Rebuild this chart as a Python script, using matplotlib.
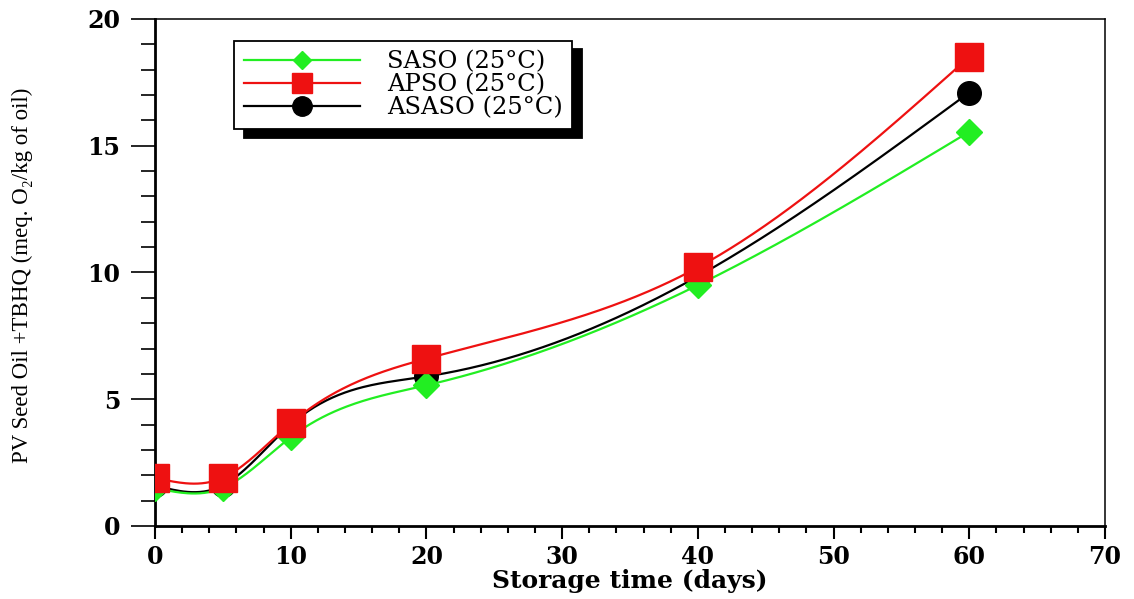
import numpy as np
import matplotlib
matplotlib.use('Agg')
import matplotlib.pyplot as plt
from matplotlib.lines import Line2D
from matplotlib.ticker import MultipleLocator

plt.rcParams['font.family'] = 'DejaVu Serif'
plt.rcParams['font.weight'] = 'bold'

# storage days and peroxide values
days = [0, 5, 10, 20, 40, 60]
saso = [1.5, 1.5, 3.5, 5.55, 9.5, 15.55]
apso = [1.9, 1.9, 4.05, 6.6, 10.2, 18.5]
asaso = [1.6, 1.6, 4.0, 5.9, 9.85, 17.1]


def natural_spline(x, y, n=400):
	# plain natural cubic spline, just to get the smooth look of the original
	x = np.asarray(x, float)
	y = np.asarray(y, float)
	m = len(x)
	h = np.diff(x)
	A = np.zeros((m, m))
	b = np.zeros(m)
	A[0, 0] = 1
	A[-1, -1] = 1
	for i in range(1, m - 1):
		A[i, i - 1] = h[i - 1]
		A[i, i] = 2 * (h[i - 1] + h[i])
		A[i, i + 1] = h[i]
		b[i] = 6 * ((y[i + 1] - y[i]) / h[i] - (y[i] - y[i - 1]) / h[i - 1])
	M = np.linalg.solve(A, b)
	xs = np.linspace(x[0], x[-1], n)
	idx = np.clip(np.searchsorted(x, xs) - 1, 0, m - 2)
	x0 = x[idx]
	x1 = x[idx + 1]
	hh = h[idx]
	ys = (M[idx] * (x1 - xs) ** 3 / (6 * hh) + M[idx + 1] * (xs - x0) ** 3 / (6 * hh)
	      + (y[idx] / hh - M[idx] * hh / 6) * (x1 - xs)
	      + (y[idx + 1] / hh - M[idx + 1] * hh / 6) * (xs - x0))
	return xs, ys


fig = plt.figure(figsize=(11.34, 5.99), dpi=100)
ax = fig.add_axes([0.1367, 0.1219, 0.8377, 0.8464])

# label, values, colour, marker, size in plot, size in legend, zorder
series = [
	('SASO (25°C)', saso, '#22ee22', 'D', 13, 9, 3),
	('APSO (25°C)', apso, '#ee1111', 's', 20, 14, 4),
	('ASASO (25°C)', asaso, 'black', 'o', 17, 14, 2),
]
handles = []
for label, vals, col, mk, ms, lms, z in series:
	xs, ys = natural_spline(days, vals)
	ax.plot(xs, ys, color=col, lw=1.6, zorder=z)
	ax.plot(days, vals, linestyle='none', marker=mk, ms=ms, color=col, zorder=z)
	handles.append(Line2D([], [], color=col, lw=1.6, marker=mk, ms=lms))

ax.set_xlim(0, 70)
ax.set_ylim(0, 20)
ax.xaxis.set_major_locator(MultipleLocator(10))
ax.xaxis.set_minor_locator(MultipleLocator(2))
ax.yaxis.set_major_locator(MultipleLocator(5))
ax.yaxis.set_minor_locator(MultipleLocator(1))
ax.tick_params(axis='x', which='major', direction='out', length=9, width=1.5, pad=5, labelsize=17)
ax.tick_params(axis='x', which='minor', direction='out', length=5, width=1.5)
ax.tick_params(axis='y', which='major', direction='out', length=17, width=1.2, pad=8, labelsize=17)
ax.tick_params(axis='y', which='minor', direction='out', length=10, width=1.2)
ax.spines['left'].set_linewidth(2)
ax.spines['bottom'].set_linewidth(2)
ax.spines['top'].set_linewidth(1.1)
ax.spines['right'].set_linewidth(1.1)

ax.set_xlabel('Storage time (days)', fontweight='bold', fontsize=18, labelpad=0)
ax.set_ylabel('PV Seed Oil +TBHQ (meq. O₂/kg of oil)', family=['Liberation Serif', 'DejaVu Serif'],
              fontweight='normal', fontsize=16.5)
ax.yaxis.set_label_coords(-0.128, 0.495)

leg = ax.legend(handles, [s[0] for s in series], loc='upper left', bbox_to_anchor=(0.083, 0.957),
                borderaxespad=0, prop={'family': 'DejaVu Serif', 'weight': 'normal', 'size': 17.5},
                handlelength=4.8, handletextpad=1.1, borderpad=0.4, labelspacing=0.0,
                fancybox=False, framealpha=1, edgecolor='black',
                shadow={'color': 'black', 'alpha': 1, 'ox': 7, 'oy': -6})
leg.get_frame().set_linewidth(1.3)

fig.savefig('out.png', dpi=100)
